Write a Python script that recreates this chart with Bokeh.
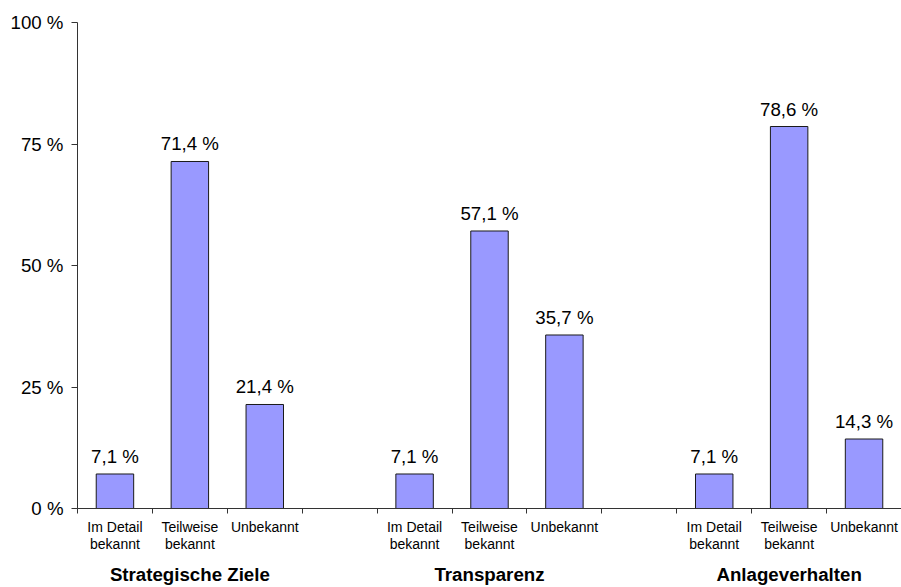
from bokeh.plotting import figure
from bokeh.models import ColumnDataSource, LabelSet, Range1d, FixedTicker, LinearAxis
from bokeh.core.properties import value
from bokeh.embed import file_html
from bokeh.resources import INLINE

groups = ["Strategische Ziele", "Transparenz", "Anlageverhalten"]
answers = ["Im Detail\nbekannt", "Teilweise\nbekannt", "Unbekannt"]
values = [
    [7.1, 71.4, 21.4],
    [7.1, 57.1, 35.7],
    [7.1, 78.6, 14.3],
]
y_ticks = [0, 25, 50, 75, 100]
y_tick_labels = ["0 %", "25 %", "50 %", "75 %", "100 %"]

slots_per_group = 4
n_slots = 11

xs, tops, vlabels, cats = [], [], [], []
for g, vals in enumerate(values):
    for i, v in enumerate(vals):
        xs.append(g * slots_per_group + i + 0.5)
        tops.append(v)
        vlabels.append(f"{v:.1f} %".replace(".", ","))
        cats.append(answers[i])
group_x = [g * slots_per_group + 1.5 for g in range(len(groups))]

src = ColumnDataSource(dict(x=xs, top=tops, vl=vlabels))

p = figure(width=901, height=587, output_backend="svg", toolbar_location=None,
           x_range=Range1d(0, n_slots), y_range=Range1d(0, 100),
           min_border_left=77, min_border_right=0, min_border_top=22, min_border_bottom=79)
p.outline_line_color = None
p.grid.visible = False
p.background_fill_color = "white"
p.border_fill_color = "white"

p.vbar(x="x", top="top", width=0.5, bottom=0, source=src,
       fill_color="#9999FF", line_color="#1a1a1a", line_width=1)

font = "Liberation Sans"
axis_col = "#333333"

# y axis
p.yaxis.ticker = FixedTicker(ticks=y_ticks)
p.yaxis.major_label_overrides = {t: s for t, s in zip(y_ticks, y_tick_labels)}
p.yaxis.minor_tick_line_color = None
p.yaxis.major_tick_in = 0
p.yaxis.major_tick_out = 6
p.yaxis.major_label_standoff = 8
p.yaxis.major_label_text_font = font
p.yaxis.major_label_text_font_size = "18.7px"
p.yaxis.major_label_text_color = "black"
p.yaxis.axis_line_color = axis_col
p.yaxis.major_tick_line_color = axis_col

# x axis: category labels at bar centres (major), slot separators as minor ticks
xa = p.xaxis[0]
xa.ticker = FixedTicker(ticks=xs, minor_ticks=list(range(0, n_slots + 1)))
xa.major_label_overrides = {x: c for x, c in zip(xs, cats)}
xa.major_tick_line_color = None
xa.major_tick_in = 0
xa.major_tick_out = 0
xa.minor_tick_in = 0
xa.minor_tick_out = 5
xa.minor_tick_line_color = axis_col
xa.axis_line_color = axis_col
xa.major_label_standoff = 5
xa.major_label_text_font = font
xa.major_label_text_font_size = "14px"
xa.major_label_text_color = "black"
xa.major_label_text_line_height = 1.1

# group labels
ga = LinearAxis(ticker=FixedTicker(ticks=group_x, minor_ticks=[]),
                major_label_overrides={x: g for x, g in zip(group_x, groups)})
ga.axis_line_color = None
ga.major_tick_line_color = None
ga.minor_tick_line_color = None
ga.major_tick_in = 0
ga.major_tick_out = 0
ga.major_label_standoff = 8
ga.major_label_text_font = font
ga.major_label_text_font_size = "18.7px"
ga.major_label_text_font_style = "bold"
ga.major_label_text_color = "black"
p.add_layout(ga, "below")

p.add_layout(LabelSet(x="x", y="top", text="vl", source=src, y_offset=11,
                      text_align="center", text_baseline="alphabetic",
                      text_font=value(font), text_font_size=value("18.7px"),
                      text_color="black"))

open("out.html", "w").write(file_html(p, INLINE))
